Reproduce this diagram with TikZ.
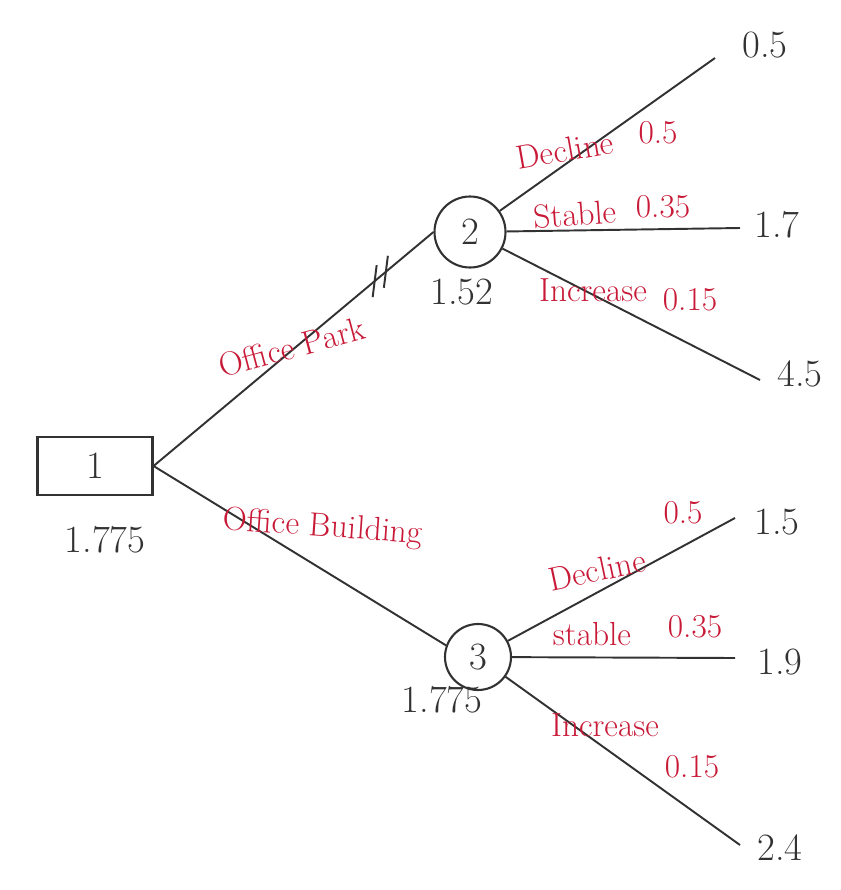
\documentclass[tikz,border=0pt]{standalone}
\usetikzlibrary{calc}
\definecolor{inkred}{RGB}{200,25,55}
\definecolor{ink}{RGB}{50,50,50}
\begin{document}
\begin{tikzpicture}[x=0.02cm,y=-0.02cm,
  edge/.style={draw=ink,line width=1.1pt},
  decision/.style={draw=ink,line width=1.2pt,minimum width=2.3cm,minimum height=1.16cm,inner sep=0pt},
  chance/.style={draw=ink,line width=1.2pt,circle,inner sep=0pt},
  numtxt/.style={text=ink,font=\fontsize{22}{26}\selectfont},
  lbl/.style={text=inkred,font=\fontsize{19}{23}\selectfont}]
\useasboundingbox (0,0) rectangle (840,890);

% decision and chance nodes
\node[decision,numtxt] (n1) at (95,466) {1};
\node[chance,numtxt,minimum size=1.42cm] (n2) at (470,232) {2};
\node[chance,numtxt,minimum size=1.32cm] (n3) at (478,657) {3};

% node values
\node[numtxt] (v1) at (105,540) {1.775};
\node[numtxt] (v2) at (462,292) {1.52};
\node[numtxt] (v3) at (442,700) {1.775};

% outcome end points
\coordinate (e1) at (715,58);
\coordinate (e2) at (740,228);
\coordinate (e3) at (760,380);
\coordinate (e4) at (735,518);
\coordinate (e5) at (735,658);
\coordinate (e6) at (740,845);

\node[numtxt] (p1) at (765,45) {0.5};
\node[numtxt] (p2) at (777,225) {1.7};
\node[numtxt] (p3) at (800,374) {4.5};
\node[numtxt] (p4) at (777,522) {1.5};
\node[numtxt] (p5) at (780,662) {1.9};
\node[numtxt] (p6) at (780,848) {2.4};

% decision branches
\draw[edge] (n1.east) -- (n2.west);
\draw[edge] (n1.east) -- (n3.160);

% pruning mark on the upper branch
\path (n1.east) -- (n2.west) coordinate[pos=0.79] (t1) coordinate[pos=0.83] (t2);
\draw[edge] ($(t1)+(2,-16)$) -- ($(t1)+(-2,16)$);
\draw[edge] ($(t2)+(2,-16)$) -- ($(t2)+(-2,16)$);

% chance branches
\draw[edge] (n2) -- (e1);
\draw[edge] (n2) -- (e2);
\draw[edge] (n2) -- (e3);
\draw[edge] (n3) -- (e4);
\draw[edge] (n3) -- (e5);
\draw[edge] (n3) -- (e6);

% branch labels
\node[lbl,rotate=15] (l1) at (292,347) {Office Park};
\node[lbl,rotate=-4] (l2) at (323,528) {Office Building};

\node[lbl,rotate=10] (a1) at (565,150) {Decline};
\node[lbl] (a2) at (658,133) {0.5};
\node[lbl,rotate=4] (a3) at (575,214) {Stable};
\node[lbl] (a4) at (663,207) {0.35};
\node[lbl] (a5) at (593,290) {Increase};
\node[lbl] (a6) at (690,300) {0.15};

\node[lbl] (b1) at (683,513) {0.5};
\node[lbl,rotate=12] (b2) at (597,570) {Decline};
\node[lbl] (b3) at (592,634) {stable};
\node[lbl] (b4) at (695,627) {0.35};
\node[lbl] (b5) at (605,725) {Increase};
\node[lbl] (b6) at (692,767) {0.15};
\end{tikzpicture}
\end{document}
